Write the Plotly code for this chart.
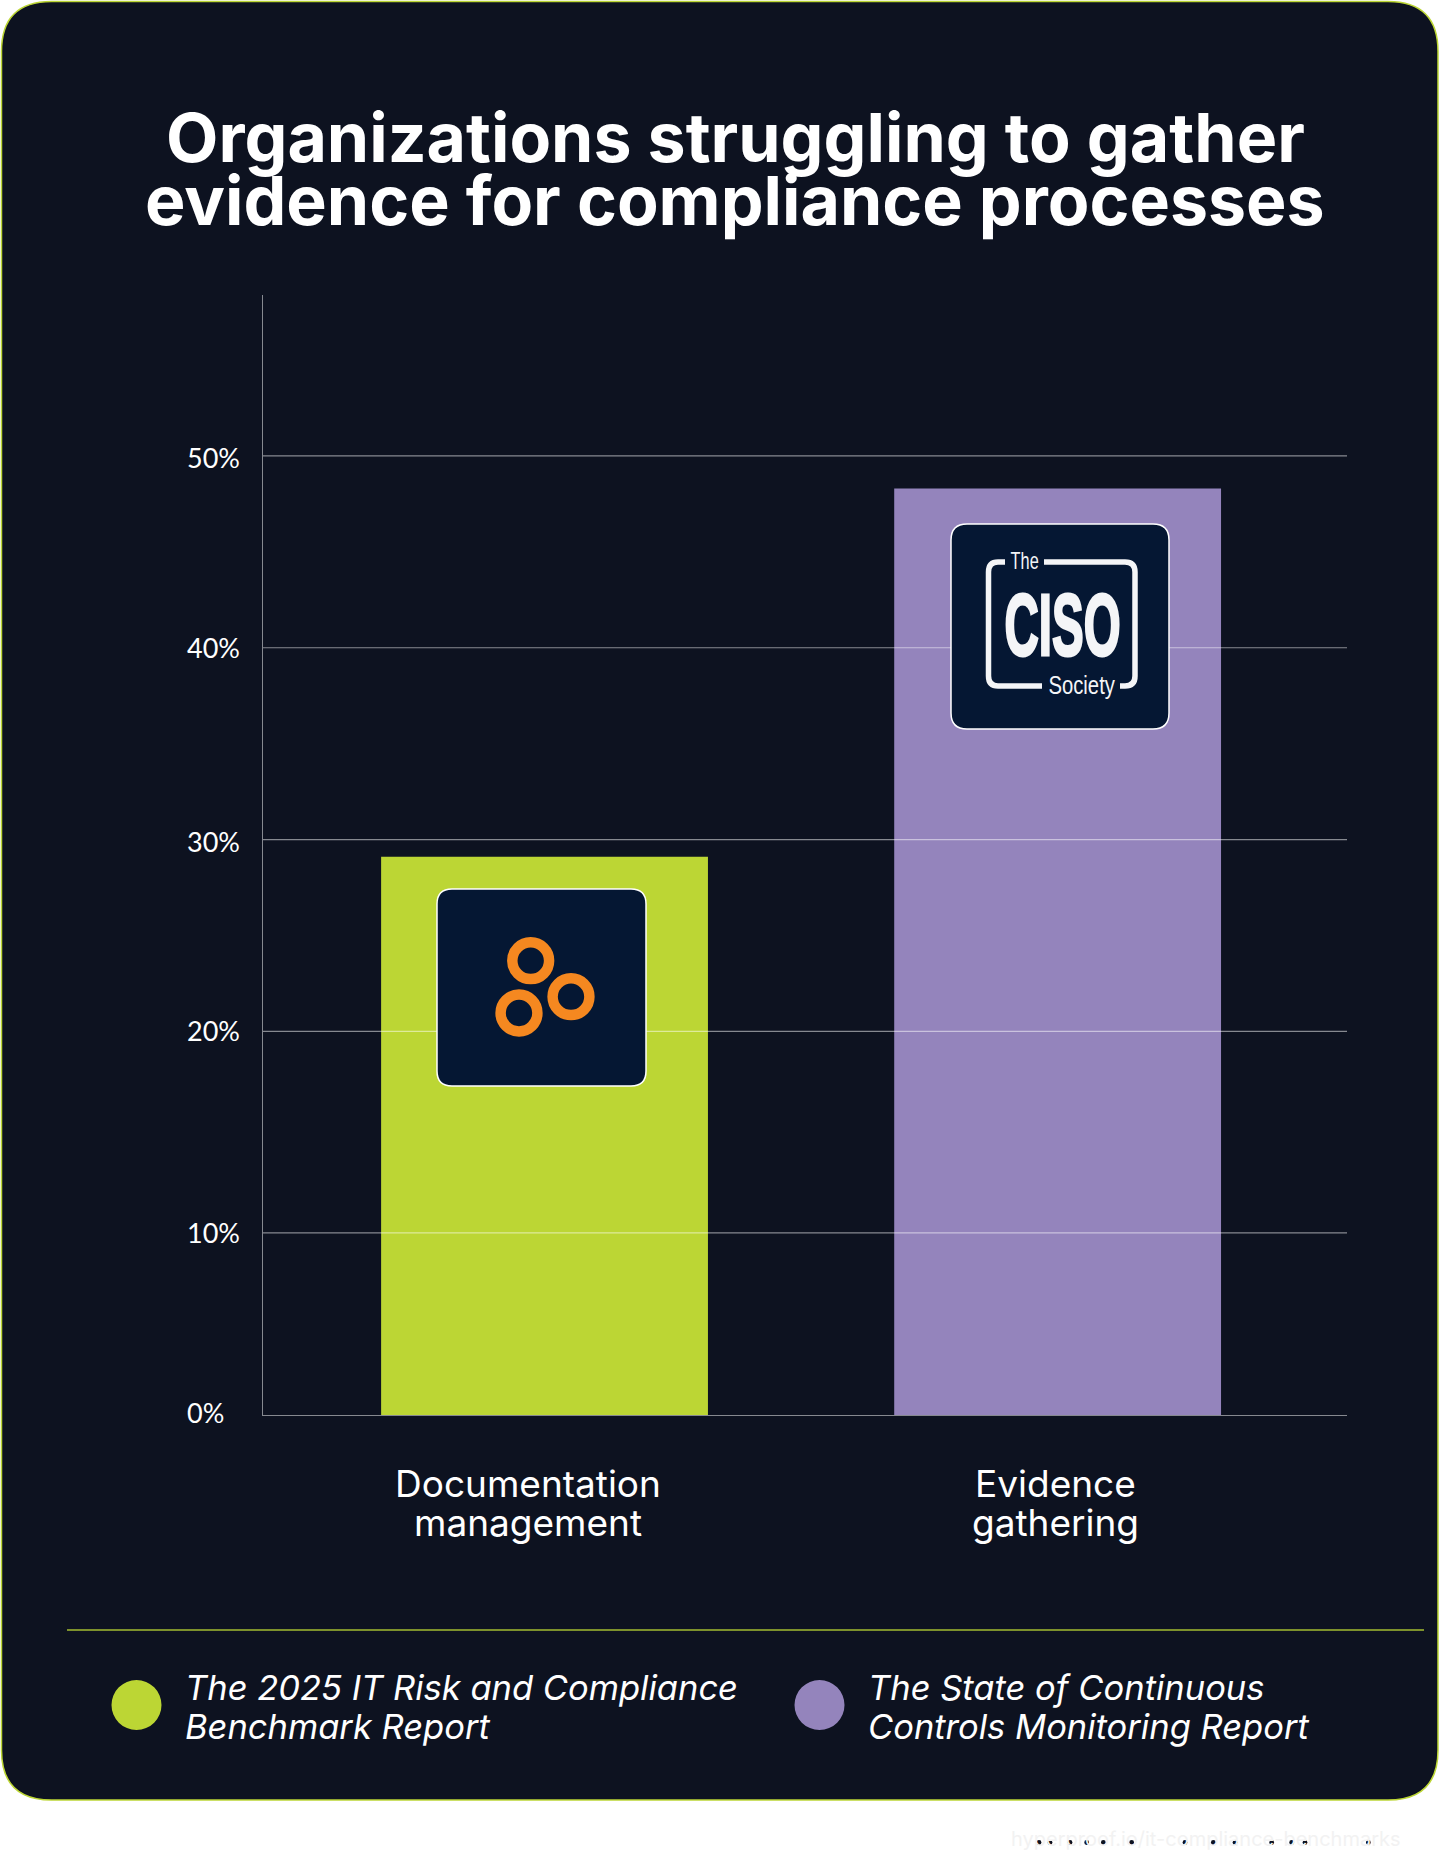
import plotly.graph_objects as go

W = 1440
H = 1852

categories = ['Documentation management', 'Evidence gathering']
values = [29.1, 48.3]
bar_colors = ['#BCD634', '#9484BC']

tick_positions = [0, 9.5, 20, 30, 40, 50]
tick_labels = ['0%', '10%', '20%', '30%', '40%', '50%']
tick_nudges = [3, 0, 1, -2, 0, -2]

title_lines = ['Organizations struggling to gather', 'evidence for compliance processes']
category_lines = [['Documentation', 'management'], ['Evidence', 'gathering']]
legend_lines = [['The 2025 IT Risk and Compliance', 'Benchmark Report'],
                ['The State of Continuous', 'Controls Monitoring Report']]
footer = 'hyperproof.io/it-compliance-benchmarks'

# squeeze the logo lettering, the installed fonts have no condensed cut
logo_squeeze = {'The': 0.68, 'CISO': 0.54, 'Society': 0.78}


def px(x):
    return x / W


def py(y):
    return 1 - y / H


def rounded(x0, y0, x1, y1, r):
    return (f'M{px(x0 + r)},{py(y0)} L{px(x1 - r)},{py(y0)} Q{px(x1)},{py(y0)} {px(x1)},{py(y0 + r)} '
            f'L{px(x1)},{py(y1 - r)} Q{px(x1)},{py(y1)} {px(x1 - r)},{py(y1)} '
            f'L{px(x0 + r)},{py(y1)} Q{px(x0)},{py(y1)} {px(x0)},{py(y1 - r)} '
            f'L{px(x0)},{py(y0 + r)} Q{px(x0)},{py(y0)} {px(x0 + r)},{py(y0)} Z')


def paper_shape(path, fill='rgba(0,0,0,0)', line='rgba(0,0,0,0)', width=0, layer='above'):
    return dict(type='path', xref='paper', yref='paper', path=path, fillcolor=fill,
                line=dict(color=line, width=width), layer=layer)


def circle(cx, cy, r, fill='rgba(0,0,0,0)', line='rgba(0,0,0,0)', width=0):
    return dict(type='circle', xref='paper', yref='paper', x0=px(cx - r), x1=px(cx + r),
                y0=py(cy + r), y1=py(cy - r), fillcolor=fill, line=dict(color=line, width=width), layer='above')


def label(text, x, y, size, family='Inter', color='white', weight=400, style='normal', anchor='center'):
    return dict(text=text, x=px(x), y=py(y), xref='paper', yref='paper', xanchor=anchor, yanchor='middle',
                showarrow=False, font=dict(family=family, size=size, color=color, weight=weight, style=style))


fig = go.Figure(go.Bar(x=[0, 1], y=values, width=0.637, marker=dict(color=bar_colors, line_width=0),
                       hovertext=categories, hoverinfo='text+y'))

shapes = [paper_shape(rounded(1.5, 1.5, 1438, 1800, 50), fill='#0D1220', line='#BCD634', width=1.5, layer='below')]

# grid sits on top of the bars in the original
for t in tick_positions[1:]:
    shapes.append(dict(type='line', xref='x domain', yref='y', x0=0, x1=1, y0=t, y1=t,
                       line=dict(color='rgba(255,255,255,0.5)', width=1.2), layer='above'))

# logo cards
shapes.append(paper_shape(rounded(437, 889, 646, 1086, 15), fill='#051733', line='white', width=1.5))
shapes.append(paper_shape(rounded(951, 524, 1169, 729, 16), fill='#051733', line='white', width=1.5))

# rings
for cx, cy in [(530.7, 960.7), (571, 996.7), (519, 1013)]:
    shapes.append(circle(cx, cy, 18.4, line='#F58820', width=10.5))

# ciso bracket
left = (f'M{px(1005)},{py(562)} L{px(998)},{py(562)} Q{px(988.5)},{py(562)} {px(988.5)},{py(572)} '
        f'L{px(988.5)},{py(676)} Q{px(988.5)},{py(686)} {px(998)},{py(686)} L{px(1042)},{py(686)}')
right = (f'M{px(1044)},{py(562)} L{px(1125)},{py(562)} Q{px(1135)},{py(562)} {px(1135)},{py(572)} '
         f'L{px(1135)},{py(676)} Q{px(1135)},{py(686)} {px(1125)},{py(686)} L{px(1120)},{py(686)}')
shapes.append(paper_shape(left, line='#F4F5F7', width=5.5))
shapes.append(paper_shape(right, line='#F4F5F7', width=5.5))

# divider and legend dots
shapes.append(dict(type='line', xref='paper', yref='paper', x0=px(67), x1=px(1424), y0=py(1630), y1=py(1630),
                   line=dict(color='#A3BC30', width=1.5), layer='above'))
shapes.append(circle(136.5, 1705, 25, fill=bar_colors[0]))
shapes.append(circle(819.5, 1705, 25, fill=bar_colors[1]))

# dark specks in the footer letters
for z in [117, 150, 210, 260, 310, 395, 555, 640, 705, 815, 875, 915, 1105]:
    shapes.append(circle(1000 + z / 3, 1842.5, 2.4, fill='#0D1220'))

annotations = []
annotations.append(label(title_lines[0], 735, 137, 68, weight=700))
annotations.append(label(title_lines[1], 735, 200, 68, weight=700))

for t, name, nudge in zip(tick_positions, tick_labels, tick_nudges):
    annotations.append(dict(text=name, x=px(185), xref='paper', y=t, yref='y', xanchor='left', yanchor='middle',
                            yshift=nudge, showarrow=False, font=dict(family='Lato', size=27, color='white')))

for cx, lines in zip([528, 1055], category_lines):
    annotations.append(label(lines[0], cx, 1483, 37))
    annotations.append(label(lines[1], cx, 1522, 37))

for lx, lines in zip([183, 866], legend_lines):
    annotations.append(label(lines[0], lx, 1687, 34.5, style='italic', anchor='left'))
    annotations.append(label(lines[1], lx, 1726, 34.5, style='italic', anchor='left'))

annotations.append(label('The', 1024, 560, 24, family='Liberation Sans', color='#F4F5F7'))
annotations.append(label('CISO', 1062, 624, 88, family='Liberation Sans', color='#F4F5F7', weight=700))
annotations.append(label('Society', 1081, 685, 26, family='Liberation Sans', color='#F4F5F7'))

annotations.append(label(footer, 1206, 1839, 20, color='#F2F2F2'))

fig.update_layout(
    width=W, height=H, margin=dict(l=0, r=0, t=0, b=0), autosize=False,
    paper_bgcolor='white', plot_bgcolor='rgba(0,0,0,0)', showlegend=False,
    shapes=shapes, annotations=annotations,
    xaxis=dict(domain=[px(263), px(1347)], range=[-0.5487, 1.564], tickvals=[0, 1], showticklabels=False,
               showgrid=False, zeroline=False, ticks='', showline=True, linecolor='rgba(255,255,255,0.5)', linewidth=1,
               anchor='y'),
    yaxis=dict(domain=[py(1415), py(295)], range=[0, 58.39], tickvals=tick_positions, showticklabels=False,
               showgrid=False, zeroline=False, ticks='', showline=True, linecolor='rgba(255,255,255,0.5)', linewidth=1,
               anchor='x'),
)

squeeze_js = """
document.body.style.margin = '0';
var squeeze = %s;
document.querySelectorAll('.annotation-text').forEach(function (t) {
    var k = squeeze[t.textContent];
    if (k) {
        t.style.transformBox = 'fill-box';
        t.style.transformOrigin = 'center';
        t.style.transform = 'scaleX(' + k + ')';
    }
    if (t.textContent === 'CISO') {
        t.style.stroke = '#F4F5F7';
        t.style.strokeWidth = '3px';
    }
});
""" % str(logo_squeeze)

fig.write_html('out.html', post_script=squeeze_js, config={'displayModeBar': False})
